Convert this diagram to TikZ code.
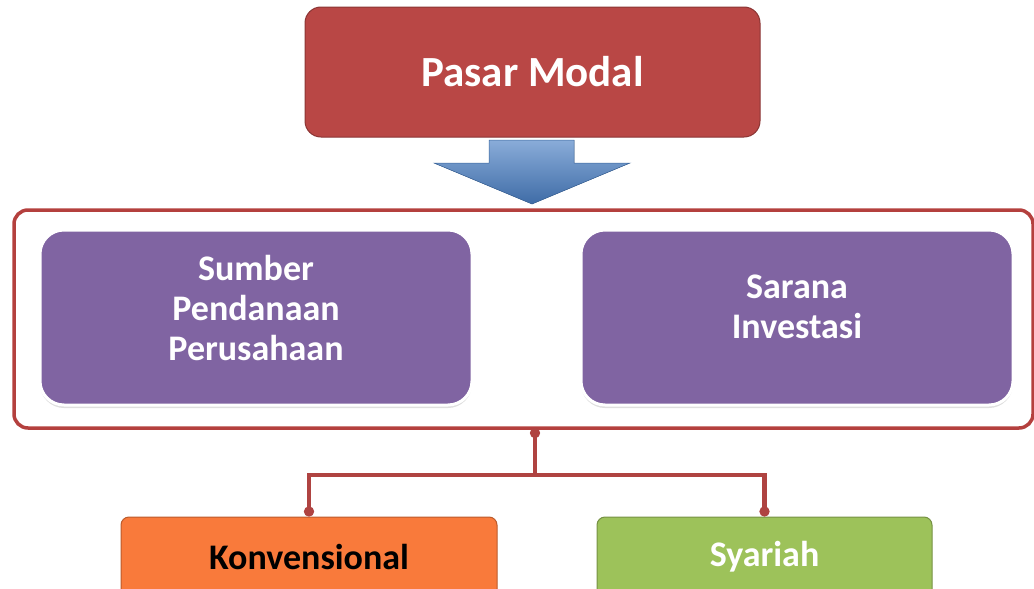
\documentclass[tikz,border=0pt]{standalone}
\usepackage{fontspec}
\setmainfont{Carlito}
\usepackage{tikz}
\usetikzlibrary{positioning,shadows,arrows.meta}
\definecolor{modalred}{HTML}{B94745}
\definecolor{framered}{HTML}{B4403E}
\definecolor{linkred}{HTML}{AF4341}
\definecolor{boxpurple}{HTML}{8064A2}
\definecolor{flowblue}{HTML}{4A7FC4}
\definecolor{leaforange}{HTML}{F97A3B}
\definecolor{leafgreen}{HTML}{9DC25A}
\tikzset{
  every picture/.style = {
    x = 1pt,
    y = -1pt,
    node distance = 106pt,
  }
  ,
  title-box/.style = {
    rectangle,
    rounded corners = 16pt,
    fill = modalred,
    draw = modalred!75!black,
    line width = 1pt,
    text = white,
    font = \fontsize{43}{48}\selectfont\bfseries,
    minimum width = 455pt,
    minimum height = 130pt
  }
  , % outline round the two purple boxes
  group-frame/.style = {
    rectangle,
    rounded corners = 14pt,
    draw = framered,
    line width = 3.5pt,
    minimum width = 1019pt,
    minimum height = 218pt
  }
  ,
  purple-box/.style = {
    rectangle,
    rounded corners = 24pt,
    fill = boxpurple,
    draw = white,
    line width = 3pt,
    drop shadow = {shadow xshift = 0pt, shadow yshift = -3pt, opacity = 0.25},
    minimum width = 432pt,
    minimum height = 175pt
  }
  , % texts inside the purple boxes
  purple-text/.style = {
    text = white,
    align = center,
    font = \fontsize{36}{40}\selectfont\bfseries
  }
  ,
  leaf-box/.style = {
    rectangle,
    rounded corners = 8pt,
    line width = 1pt,
    font = \fontsize{36}{40}\selectfont\bfseries,
    minimum height = 80pt
  }
  ,
  flow-arrow/.style = {
    top color = flowblue!65!white,
    bottom color = flowblue!85!black,
    draw = flowblue!80!black,
    line width = 0.5pt
  }
  ,
  link/.style = {
    draw = linkred,
    line width = 4.5pt,
    {Circle[length=10pt]}-{Circle[length=10pt]}
  }
}
\begin{document}
\begin{tikzpicture}
\useasboundingbox (0,0) rectangle (1034,589);
\clip (0,0) rectangle (1034,589);

\node[title-box] (pasar) at (532.5,72) {Pasar Modal};
\fill[flow-arrow] (489,140) -- (574,140) -- (574,163) -- (630,163) -- (532,204)
  -- (434,163) -- (489,163) -- cycle;

\node[group-frame] (frame) at (523.5,319) {};
\node[purple-box] (sumber) at (256,317.5) {};
\node[purple-box, right = of sumber] (sarana) {};
\node[purple-text] (sumber-text) at ([yshift=9.5pt]sumber.center) {Sumber\\Pendanaan\\Perusahaan};
\node[purple-text] (sarana-text) at ([yshift=10.5pt]sarana.center) {Sarana\\Investasi};

\node[leaf-box, fill=leaforange, draw=leaforange!75!black, text=black,
  minimum width=376pt] (konv) at (309,557) {Konvensional};
\node[leaf-box, fill=leafgreen, draw=leafgreen!75!black, text=white,
  minimum width=335pt] (syariah) at (764.5,557) {Syariah};

\coordinate (tap) at (535,428);
\draw[link] (tap) -- ++(0,47) -| (konv.north);
\draw[link, -{Circle[length=10pt]}] (tap) ++(0,47) -| (syariah.north);
\end{tikzpicture}
\end{document}
